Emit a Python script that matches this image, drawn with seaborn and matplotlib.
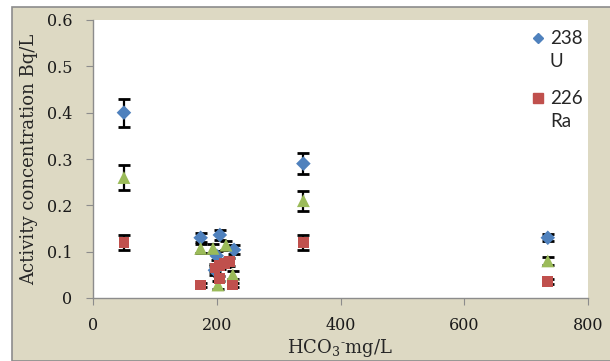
import matplotlib.pyplot as plt
import matplotlib.patches as mpatches
from matplotlib.lines import Line2D
import numpy as np
import pandas as pd
import seaborn as sns

sns.set_style("white")
plt.rcParams['font.family'] = ['DejaVu Serif']
plt.rcParams['mathtext.fontset'] = 'dejavuserif'

# Data (HCO3- in mg/L, activity in Bq/L)
u_hco3 = [50, 174, 205, 228, 200, 197, 340, 735]
u_act = [0.40, 0.130, 0.136, 0.104, 0.091, 0.060, 0.29, 0.130]
u_err = [0.030, 0.010, 0.010, 0.010, 0.010, 0.010, 0.022, 0.008]

g_hco3 = [50, 174, 194, 215, 202, 226, 340, 735]
g_act = [0.26, 0.107, 0.107, 0.114, 0.028, 0.050, 0.21, 0.080]
g_err = [0.027, 0.010, 0.010, 0.010, 0.008, 0.008, 0.022, 0.008]

ra_hco3 = [50, 174, 197, 205, 213, 220, 204, 226, 340, 735]
ra_act = [0.12, 0.028, 0.065, 0.070, 0.075, 0.078, 0.042, 0.028, 0.12, 0.035]
ra_err = [0.017, 0.005, 0.008, 0.008, 0.008, 0.008, 0.006, 0.005, 0.017, 0.005]

series = ['U', 'G', 'Ra']
colors = {'U': '#4f81bd', 'G': '#9bbb59', 'Ra': '#c0504d'}
markers = {'U': 'D', 'G': '^', 'Ra': 's'}
sizes = {'U': 55, 'G': 85, 'Ra': 60}

df = pd.concat([
    pd.DataFrame({'hco3': u_hco3, 'act': u_act, 'err': u_err, 'nuclide': 'U'}),
    pd.DataFrame({'hco3': g_hco3, 'act': g_act, 'err': g_err, 'nuclide': 'G'}),
    pd.DataFrame({'hco3': ra_hco3, 'act': ra_act, 'err': ra_err, 'nuclide': 'Ra'}),
], ignore_index=True)

fig = plt.figure(figsize=(6.1, 3.61), dpi=100)
# beige chart area with grey border
fig.patches.append(mpatches.Rectangle((12 / 610, 0), 1, 1 - 7 / 361, transform=fig.transFigure,
                                      facecolor='#ddd9c3', edgecolor='#8c8c8c', lw=1.2, zorder=-5))
ax = fig.add_axes([93 / 610, 1 - 298 / 361, 495 / 610, 278 / 361])
ax.set_facecolor('white')

for name in series:
    sub = df[df['nuclide'] == name]
    ax.errorbar(sub['hco3'], sub['act'], yerr=sub['err'], fmt='none', ecolor='black',
                elinewidth=1.6, capsize=4.5, capthick=2.0, zorder=2)

sns.scatterplot(data=df, x='hco3', y='act', hue='nuclide', style='nuclide', size='nuclide',
                palette=colors, markers=markers, sizes=sizes, edgecolor='none',
                legend=False, ax=ax, zorder=3)

ax.set_xlim(0, 800)
ax.set_ylim(0, 0.6)
ax.set_xticks([0, 200, 400, 600, 800])
ax.set_yticks([0, 0.1, 0.2, 0.3, 0.4, 0.5, 0.6])
ax.set_yticklabels(['0', '0.1', '0.2', '0.3', '0.4', '0.5', '0.6'])
ax.tick_params(axis='both', labelsize=11.5, colors='#8c8c8c', labelcolor='#1a1a1a',
               length=5, direction='out', bottom=True, left=True)
ax.tick_params(axis='y', pad=10)
ax.tick_params(axis='x', pad=9)
for side in ['top', 'right']:
    ax.spines[side].set_visible(False)
for side in ['left', 'bottom']:
    ax.spines[side].set_color('#8c8c8c')
    ax.spines[side].set_linewidth(1.0)

ax.set_xlabel('HCO$_3$$^{\u2010}$mg/L', fontsize=13, labelpad=2)
ax.set_ylabel('Activity concentration Bq/L', fontsize=13, labelpad=6)

# legend: one block per nuclide, marker beside the mass number, symbol below
blank = Line2D([], [], ls='none')
leg_kw = dict(loc='upper left', frameon=False, borderpad=0, handlelength=0.6,
              handletextpad=0.35, labelspacing=0.32, prop={'family': 'Lato', 'size': 13.5})
leg_u = ax.legend([Line2D([], [], marker='D', color=colors['U'], ls='none', markersize=5.5), blank],
                  ['238', 'U'], bbox_to_anchor=(0.868, 0.997), **leg_kw)
ax.add_artist(leg_u)
ax.legend([Line2D([], [], marker='s', color=colors['Ra'], ls='none', markersize=6.5), blank],
          ['226', 'Ra'], bbox_to_anchor=(0.868, 0.781), **leg_kw)

plt.savefig('out.png', dpi=100)
